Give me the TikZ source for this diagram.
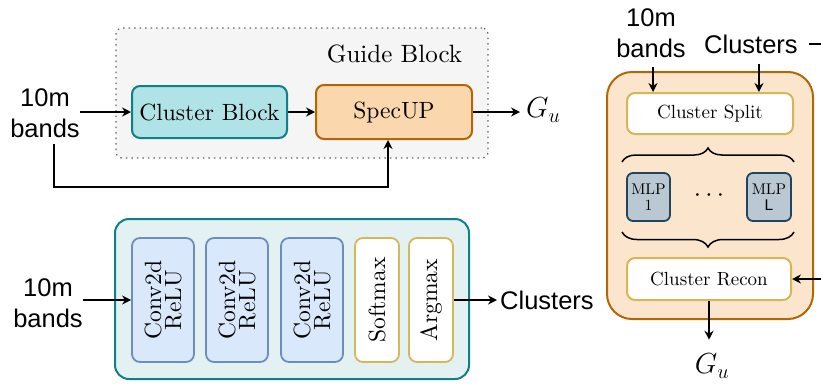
\RequirePackage{fix-cm}
\documentclass[tikz,border=0pt]{standalone}
\usepackage{fontspec}
\setmainfont{lmroman10-regular.otf}
\newfontfamily\arialf{Liberation Sans}
\usetikzlibrary{arrows.meta,decorations.pathreplacing}
\definecolor{tealD}{HTML}{0E8088}
\definecolor{tealL}{HTML}{B0E3E6}
\definecolor{orD}{HTML}{B46504}
\definecolor{orL}{HTML}{FAD7AC}
\definecolor{blD}{HTML}{6C8EBF}
\definecolor{blL}{HTML}{DAE8FC}
\definecolor{yeD}{HTML}{D6B656}
\definecolor{slD}{HTML}{23445D}
\definecolor{slL}{HTML}{BAC8D3}
\definecolor{grayF}{HTML}{F5F5F5}
\definecolor{grayD}{HTML}{666666}
\definecolor{panelT}{HTML}{E4F1F2}
\definecolor{panelO}{HTML}{FBE6CD}
\begin{document}
\begin{tikzpicture}[x=1pt,y=-1pt,
 box/.style={draw, line width=2pt, rounded corners=8pt, inner sep=0pt},
 ser/.style={font=\fontsize{23.5}{20}\selectfont},
 sml/.style={font=\fontsize{19}{20}\selectfont},
 sans/.style={font=\arialf\fontsize{25.5}{31}\selectfont, align=center, inner sep=0pt},
 arr/.style={-{Stealth[length=9pt,width=9pt,inset=3pt]}, line width=1.5pt},
 brc/.style={line width=1.5pt, decorate},
 mathl/.style={font=\fontsize{29}{29}\selectfont, inner sep=0pt},
]
\useasboundingbox (0,0) rectangle (821,383);

% ---------- Guide block ----------
\node[draw=grayD, fill=grayF, line width=1.2pt, dash pattern=on 1.5pt off 4pt,
      rounded corners=6pt, minimum width=372pt, minimum height=130pt, inner sep=0pt] (guide) at (302,93) {};
\node[anchor=base, font=\fontsize{25}{25}\selectfont] (gtitle) at (394.5,62) {Guide Block};
\node[box, draw=tealD, fill=tealL, ser, minimum width=155pt, minimum height=52pt] (cb) at (209.5,112) {Cluster Block};
\node[box, draw=orD, fill=orL, ser, minimum width=156pt, minimum height=54pt] (su) at (394,112) {SpecUP};
\node[mathl, anchor=west] (gu1) at (526,110) {$G_u$};
\node[sans, anchor=north] (tl) at (45,88) {10m\\bands};
\draw[arr] (tl.east |- cb.west) -- (cb.west);
\draw[arr] (cb.east) -- (su.west);
\draw[arr, shorten >=6pt] (su.east) -- (su.east -| gu1.west);
\coordinate (bend) at (388,187);
\draw[arr] ([xshift=9pt,yshift=-7pt]tl.south) |- (bend) -- ([xshift=-6pt]su.south);

% ---------- Cluster block (CNN) ----------
\node[box, draw=tealD, fill=panelT, rounded corners=14pt, minimum width=354pt, minimum height=160pt] (cnn) at (292,299) {};
\node[box, draw=blD, fill=blL, line width=1.8pt, ser, rotate=90, align=center, minimum width=124pt, minimum height=62pt] (c1) at (163,300) {Conv2d\\ReLU};
\node[box, draw=blD, fill=blL, line width=1.8pt, ser, rotate=90, align=center, minimum width=124pt, minimum height=62pt] (c2) at (237,300) {Conv2d\\ReLU};
\node[box, draw=blD, fill=blL, line width=1.8pt, ser, rotate=90, align=center, minimum width=124pt, minimum height=62pt] (c3) at (312,300) {Conv2d\\ReLU};
\node[box, draw=yeD, fill=white, line width=1.8pt, ser, rotate=90, minimum width=124pt, minimum height=44pt] (sm) at (377,300) {Softmax};
\node[box, draw=yeD, fill=white, line width=1.8pt, ser, rotate=90, minimum width=124pt, minimum height=44pt] (am) at (431,300) {Argmax};
\node[sans, anchor=north] (bl) at (48,278) {10m\\bands};
\node[sans, anchor=west] (cl) at (500,300) {Clusters};
\draw[arr] (bl.east |- c1.north) -- (c1.north);
\draw[arr, shorten >=3pt] (am.south) -- (am.south -| cl.west);

% ---------- SpecUP detail ----------
\node[box, draw=orD, fill=panelO, rounded corners=25pt, minimum width=206pt, minimum height=247pt] (sp) at (710,195.5) {};
\node[box, draw=yeD, fill=white, sml, minimum width=166pt, minimum height=41pt] (split) at (710,113.5) {Cluster Split};
\node[box, draw=yeD, fill=white, sml, minimum width=164pt, minimum height=42pt] (recon) at (709,279) {Cluster Recon};
\node[box, draw=slD, fill=slL, line width=1.8pt, rounded corners=6pt, font=\fontsize{15.5}{16}\selectfont, align=center, minimum width=43pt, minimum height=48pt] (m1) at (648.5,197) {MLP\\1};
\node[box, draw=slD, fill=slL, line width=1.8pt, rounded corners=6pt, font=\fontsize{15.5}{16}\selectfont, align=center, minimum width=44pt, minimum height=48pt] (mL) at (769,197) {MLP\\{\arialf L}};
\node[font=\fontsize{26}{26}\selectfont, inner sep=0pt] (dots) at (709,196) {$\cdots$};
\draw[brc, decoration={brace, amplitude=14pt}] (622,162) -- (794,162);
\draw[brc, decoration={brace, amplitude=15pt}] (794,232) -- (622,232);
\node[sans, anchor=north] (tr) at (651,8) {10m\\bands};
\node[sans, anchor=west] (cl2) at (704,44) {Clusters};
\draw[arr] ([xshift=2pt,yshift=-10pt]tr.south) -- ([xshift=2pt]tr.south |- split.north);
\draw[arr] ([xshift=8pt,yshift=-10pt]cl2.south) -- ([xshift=8pt]cl2.south |- split.north);
\draw[arr] ([xshift=11pt]cl2.east) -- ++(40,0) |- (recon.east);
\node[mathl] (gu2) at (712,366) {$G_u$};
\draw[arr, shorten >=14pt] (recon.south) -- (recon.south |- gu2.north);
\end{tikzpicture}
\end{document}
